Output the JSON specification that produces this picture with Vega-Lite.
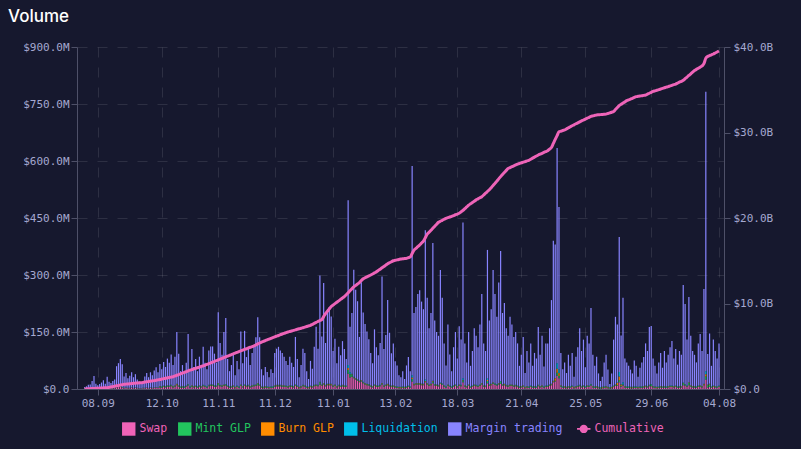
{
"$schema": "https://vega.github.io/schema/vega-lite/v6.json",
"width": 647, "height": 342,
"autosize": {"type": "none"},
"padding": {"left": 77, "top": 47, "right": 77, "bottom": 60},
"background": "#16182e",
"title": {"text": "Volume", "anchor": "start", "frame": "group", "dx": -69, "offset": 2, "baseline": "alphabetic", "font": "Inter", "fontSize": 17, "fontWeight": 500, "color": "#ffffff"},
"config": {
  "view": {"stroke": null},
  "axis": {"domainColor": "#4e5068", "tickColor": "#4e5068", "labelColor": "#a5a8d0", "labelFont": "DejaVu Sans Mono", "labelFontSize": 11, "tickSize": 6, "gridColor": "#ffffff", "gridOpacity": 0.1, "gridDash": [10, 10], "titleColor": "#a5a8d0"}
},
"datasets": {
"keys": [{"k":"s","name":"Swap","o":1},{"k":"g","name":"Mint GLP","o":2},{"k":"b","name":"Burn GLP","o":3},{"k":"l","name":"Liquidation","o":4},{"k":"m","name":"Margin trading","o":5}],
"days": [
{"d":"2021-09-01","m":3,"s":1,"g":1,"b":0,"l":0,"c":0},
{"d":"2021-09-02","m":5,"s":1,"g":1,"b":0,"l":0,"c":0.01},
{"d":"2021-09-03","m":8,"s":2,"g":1,"b":0,"l":0,"c":0.03},
{"d":"2021-09-04","m":10,"s":1,"g":1,"b":0,"l":0,"c":0.04},
{"d":"2021-09-05","m":18,"s":2,"g":1,"b":0,"l":0,"c":0.05},
{"d":"2021-09-06","m":30,"s":3,"g":1,"b":0,"l":0,"c":0.06},
{"d":"2021-09-07","m":12,"s":1,"g":1,"b":0,"l":0,"c":0.08},
{"d":"2021-09-08","m":8,"s":1,"g":1,"b":0,"l":0,"c":0.09},
{"d":"2021-09-09","m":10,"s":2,"g":1,"b":0,"l":0,"c":0.10},
{"d":"2021-09-10","m":14,"s":2,"g":1,"b":0,"l":0,"c":0.11},
{"d":"2021-09-11","m":20,"s":2,"g":1,"b":0,"l":0,"c":0.13},
{"d":"2021-09-12","m":12,"s":1,"g":1,"b":0,"l":0,"c":0.14},
{"d":"2021-09-13","m":28,"s":3,"g":1,"b":0,"l":0,"c":0.15},
{"d":"2021-09-14","m":16,"s":2,"g":1,"b":0,"l":0,"c":0.19},
{"d":"2021-09-15","m":14,"s":1,"g":1,"b":0,"l":0,"c":0.24},
{"d":"2021-09-16","m":18,"s":2,"g":1,"b":0,"l":0,"c":0.28},
{"d":"2021-09-17","m":22,"s":2,"g":1,"b":0,"l":0,"c":0.33},
{"d":"2021-09-18","m":55,"s":4,"g":1,"b":0,"l":0,"c":0.37},
{"d":"2021-09-19","m":62,"s":5,"g":1,"b":0,"l":0,"c":0.42},
{"d":"2021-09-20","m":70,"s":6,"g":3,"b":0,"l":0,"c":0.46},
{"d":"2021-09-21","m":60,"s":4,"g":1,"b":0,"l":0,"c":0.51},
{"d":"2021-09-22","m":30,"s":2,"g":1,"b":0,"l":0,"c":0.55},
{"d":"2021-09-23","m":38,"s":3,"g":1,"b":0,"l":0,"c":0.57},
{"d":"2021-09-24","m":25,"s":2,"g":1,"b":0,"l":0,"c":0.59},
{"d":"2021-09-25","m":32,"s":2,"g":1,"b":0,"l":0,"c":0.61},
{"d":"2021-09-26","m":40,"s":3,"g":1,"b":0,"l":0,"c":0.63},
{"d":"2021-09-27","m":28,"s":2,"g":1,"b":0,"l":0,"c":0.66},
{"d":"2021-09-28","m":35,"s":3,"g":1,"b":0,"l":0,"c":0.68},
{"d":"2021-09-29","m":22,"s":2,"g":1,"b":0,"l":0,"c":0.70},
{"d":"2021-09-30","m":18,"s":1,"g":1,"b":0,"l":0,"c":0.72},
{"d":"2021-10-01","m":12,"s":1,"g":1,"b":0,"l":0,"c":0.74},
{"d":"2021-10-02","m":15,"s":2,"g":1,"b":0,"l":0,"c":0.77},
{"d":"2021-10-03","m":30,"s":2,"g":1,"b":0,"l":0,"c":0.81},
{"d":"2021-10-04","m":38,"s":3,"g":1,"b":0,"l":0,"c":0.84},
{"d":"2021-10-05","m":28,"s":2,"g":1,"b":0,"l":0,"c":0.88},
{"d":"2021-10-06","m":40,"s":3,"g":1,"b":0,"l":0,"c":0.91},
{"d":"2021-10-07","m":33,"s":2,"g":1,"b":0,"l":0,"c":0.95},
{"d":"2021-10-08","m":45,"s":3,"g":1,"b":0,"l":0,"c":0.98},
{"d":"2021-10-09","m":52,"s":4,"g":1,"b":0,"l":0,"c":1.02},
{"d":"2021-10-10","m":40,"s":3,"g":1,"b":0,"l":0,"c":1.07},
{"d":"2021-10-11","m":58,"s":4,"g":2,"b":1,"l":1,"c":1.11},
{"d":"2021-10-12","m":45,"s":3,"g":2,"b":1,"l":1,"c":1.16},
{"d":"2021-10-13","m":62,"s":5,"g":2,"b":1,"l":1,"c":1.21},
{"d":"2021-10-14","m":50,"s":4,"g":2,"b":1,"l":1,"c":1.25},
{"d":"2021-10-15","m":70,"s":6,"g":2,"b":1,"l":1,"c":1.30},
{"d":"2021-10-16","m":60,"s":5,"g":2,"b":1,"l":1,"c":1.35},
{"d":"2021-10-17","m":80,"s":7,"g":2,"b":1,"l":1,"c":1.39},
{"d":"2021-10-18","m":55,"s":4,"g":2,"b":1,"l":1,"c":1.44},
{"d":"2021-10-19","m":75,"s":6,"g":2,"b":1,"l":1,"c":1.52},
{"d":"2021-10-20","m":136,"s":10,"g":2,"b":1,"l":1,"c":1.61},
{"d":"2021-10-21","m":83,"s":6,"g":2,"b":1,"l":1,"c":1.69},
{"d":"2021-10-22","m":40,"s":3,"g":2,"b":1,"l":1,"c":1.78},
{"d":"2021-10-23","m":55,"s":4,"g":2,"b":1,"l":1,"c":1.86},
{"d":"2021-10-24","m":35,"s":3,"g":2,"b":1,"l":1,"c":1.95},
{"d":"2021-10-25","m":60,"s":5,"g":2,"b":1,"l":1,"c":2.03},
{"d":"2021-10-26","m":132,"s":9,"g":2,"b":1,"l":1,"c":2.12},
{"d":"2021-10-27","m":45,"s":3,"g":2,"b":1,"l":1,"c":2.20},
{"d":"2021-10-28","m":95,"s":6,"g":2,"b":1,"l":1,"c":2.27},
{"d":"2021-10-29","m":50,"s":4,"g":2,"b":1,"l":1,"c":2.35},
{"d":"2021-10-30","m":70,"s":5,"g":2,"b":1,"l":1,"c":2.42},
{"d":"2021-10-31","m":40,"s":3,"g":2,"b":1,"l":1,"c":2.49},
{"d":"2021-11-01","m":75,"s":6,"g":2,"b":1,"l":1,"c":2.56},
{"d":"2021-11-02","m":55,"s":4,"g":2,"b":1,"l":1,"c":2.64},
{"d":"2021-11-03","m":100,"s":7,"g":2,"b":1,"l":1,"c":2.71},
{"d":"2021-11-04","m":60,"s":5,"g":2,"b":1,"l":1,"c":2.78},
{"d":"2021-11-05","m":45,"s":3,"g":2,"b":1,"l":1,"c":2.87},
{"d":"2021-11-06","m":90,"s":7,"g":2,"b":1,"l":1,"c":2.96},
{"d":"2021-11-07","m":100,"s":8,"g":2,"b":1,"l":1,"c":3.05},
{"d":"2021-11-08","m":100,"s":8,"g":2,"b":1,"l":1,"c":3.14},
{"d":"2021-11-09","m":83,"s":6,"g":2,"b":1,"l":1,"c":3.22},
{"d":"2021-11-10","m":60,"s":5,"g":2,"b":1,"l":1,"c":3.31},
{"d":"2021-11-11","m":186,"s":10,"g":4,"b":1,"l":1,"c":3.40},
{"d":"2021-11-12","m":110,"s":7,"g":2,"b":1,"l":1,"c":3.49},
{"d":"2021-11-13","m":80,"s":6,"g":2,"b":1,"l":1,"c":3.58},
{"d":"2021-11-14","m":138,"s":8,"g":2,"b":1,"l":1,"c":3.67},
{"d":"2021-11-15","m":174,"s":9,"g":2,"b":1,"l":1,"c":3.76},
{"d":"2021-11-16","m":70,"s":5,"g":2,"b":1,"l":1,"c":3.85},
{"d":"2021-11-17","m":40,"s":3,"g":2,"b":1,"l":1,"c":3.94},
{"d":"2021-11-18","m":55,"s":4,"g":2,"b":1,"l":1,"c":4.02},
{"d":"2021-11-19","m":80,"s":6,"g":2,"b":1,"l":1,"c":4.11},
{"d":"2021-11-20","m":30,"s":2,"g":2,"b":1,"l":1,"c":4.20},
{"d":"2021-11-21","m":65,"s":5,"g":2,"b":1,"l":1,"c":4.29},
{"d":"2021-11-22","m":45,"s":3,"g":2,"b":1,"l":1,"c":4.38},
{"d":"2021-11-23","m":139,"s":8,"g":2,"b":1,"l":1,"c":4.46},
{"d":"2021-11-24","m":60,"s":4,"g":2,"b":1,"l":1,"c":4.55},
{"d":"2021-11-25","m":141,"s":8,"g":2,"b":1,"l":1,"c":4.63},
{"d":"2021-11-26","m":75,"s":5,"g":2,"b":1,"l":1,"c":4.71},
{"d":"2021-11-27","m":95,"s":7,"g":2,"b":1,"l":1,"c":4.80},
{"d":"2021-11-28","m":55,"s":4,"g":2,"b":1,"l":1,"c":4.88},
{"d":"2021-11-29","m":85,"s":6,"g":2,"b":1,"l":1,"c":4.96},
{"d":"2021-11-30","m":100,"s":7,"g":2,"b":1,"l":1,"c":5.05},
{"d":"2021-12-01","m":124,"s":8,"g":2,"b":1,"l":1,"c":5.15},
{"d":"2021-12-02","m":173,"s":10,"g":4,"b":1,"l":1,"c":5.27},
{"d":"2021-12-03","m":124,"s":8,"g":2,"b":1,"l":1,"c":5.38},
{"d":"2021-12-04","m":45,"s":3,"g":2,"b":1,"l":1,"c":5.48},
{"d":"2021-12-05","m":30,"s":2,"g":2,"b":1,"l":1,"c":5.57},
{"d":"2021-12-06","m":50,"s":4,"g":2,"b":1,"l":1,"c":5.66},
{"d":"2021-12-07","m":38,"s":3,"g":2,"b":1,"l":1,"c":5.75},
{"d":"2021-12-08","m":25,"s":2,"g":2,"b":1,"l":1,"c":5.84},
{"d":"2021-12-09","m":45,"s":3,"g":2,"b":1,"l":1,"c":5.93},
{"d":"2021-12-10","m":35,"s":3,"g":2,"b":1,"l":1,"c":6.02},
{"d":"2021-12-11","m":85,"s":6,"g":2,"b":1,"l":1,"c":6.10},
{"d":"2021-12-12","m":95,"s":7,"g":2,"b":1,"l":1,"c":6.18},
{"d":"2021-12-13","m":100,"s":7,"g":2,"b":1,"l":1,"c":6.26},
{"d":"2021-12-14","m":90,"s":7,"g":2,"b":1,"l":1,"c":6.35},
{"d":"2021-12-15","m":85,"s":6,"g":2,"b":1,"l":1,"c":6.43},
{"d":"2021-12-16","m":75,"s":6,"g":2,"b":1,"l":1,"c":6.51},
{"d":"2021-12-17","m":65,"s":5,"g":2,"b":1,"l":1,"c":6.59},
{"d":"2021-12-18","m":55,"s":4,"g":2,"b":1,"l":1,"c":6.67},
{"d":"2021-12-19","m":75,"s":6,"g":2,"b":1,"l":1,"c":6.73},
{"d":"2021-12-20","m":60,"s":5,"g":2,"b":1,"l":1,"c":6.79},
{"d":"2021-12-21","m":50,"s":4,"g":2,"b":1,"l":1,"c":6.85},
{"d":"2021-12-22","m":125,"s":8,"g":2,"b":1,"l":1,"c":6.92},
{"d":"2021-12-23","m":70,"s":5,"g":2,"b":1,"l":1,"c":6.98},
{"d":"2021-12-24","m":25,"s":2,"g":2,"b":1,"l":1,"c":7.04},
{"d":"2021-12-25","m":55,"s":4,"g":2,"b":1,"l":1,"c":7.10},
{"d":"2021-12-26","m":95,"s":7,"g":2,"b":1,"l":1,"c":7.17},
{"d":"2021-12-27","m":85,"s":6,"g":2,"b":1,"l":1,"c":7.24},
{"d":"2021-12-28","m":40,"s":3,"g":2,"b":1,"l":1,"c":7.31},
{"d":"2021-12-29","m":20,"s":2,"g":2,"b":1,"l":1,"c":7.38},
{"d":"2021-12-30","m":65,"s":5,"g":2,"b":1,"l":1,"c":7.45},
{"d":"2021-12-31","m":45,"s":4,"g":2,"b":1,"l":1,"c":7.56},
{"d":"2022-01-01","m":100,"s":7,"g":2,"b":1,"l":1,"c":7.67},
{"d":"2022-01-02","m":152,"s":8,"g":2,"b":1,"l":1,"c":7.79},
{"d":"2022-01-03","m":95,"s":7,"g":2,"b":1,"l":1,"c":7.90},
{"d":"2022-01-04","m":280,"s":12,"g":5,"b":1,"l":1,"c":8.01},
{"d":"2022-01-05","m":126,"s":8,"g":2,"b":1,"l":1,"c":8.12},
{"d":"2022-01-06","m":263,"s":12,"g":2,"b":1,"l":1,"c":8.47},
{"d":"2022-01-07","m":110,"s":7,"g":2,"b":1,"l":1,"c":8.82},
{"d":"2022-01-08","m":186,"s":10,"g":2,"b":1,"l":1,"c":9.10},
{"d":"2022-01-09","m":202,"s":10,"g":2,"b":1,"l":1,"c":9.37},
{"d":"2022-01-10","m":177,"s":10,"g":2,"b":1,"l":1,"c":9.65},
{"d":"2022-01-11","m":90,"s":6,"g":2,"b":1,"l":1,"c":9.82},
{"d":"2022-01-12","m":120,"s":8,"g":2,"b":1,"l":1,"c":9.98},
{"d":"2022-01-13","m":60,"s":4,"g":2,"b":1,"l":1,"c":10.15},
{"d":"2022-01-14","m":100,"s":7,"g":2,"b":1,"l":1,"c":10.31},
{"d":"2022-01-15","m":80,"s":5,"g":2,"b":1,"l":1,"c":10.48},
{"d":"2022-01-16","m":115,"s":7,"g":2,"b":1,"l":1,"c":10.64},
{"d":"2022-01-17","m":95,"s":6,"g":2,"b":1,"l":1,"c":10.80},
{"d":"2022-01-18","m":70,"s":5,"g":2,"b":1,"l":1,"c":11.02},
{"d":"2022-01-19","m":434,"s":40,"g":10,"b":5,"l":8,"c":11.25},
{"d":"2022-01-20","m":120,"s":30,"g":8,"b":1,"l":5,"c":11.48},
{"d":"2022-01-21","m":160,"s":32,"g":6,"b":1,"l":1,"c":11.72},
{"d":"2022-01-22","m":282,"s":28,"g":2,"b":1,"l":1,"c":11.95},
{"d":"2022-01-23","m":232,"s":25,"g":2,"b":1,"l":1,"c":12.12},
{"d":"2022-01-24","m":205,"s":22,"g":2,"b":1,"l":1,"c":12.28},
{"d":"2022-01-25","m":115,"s":18,"g":2,"b":1,"l":1,"c":12.45},
{"d":"2022-01-26","m":257,"s":20,"g":2,"b":1,"l":1,"c":12.68},
{"d":"2022-01-27","m":182,"s":15,"g":2,"b":1,"l":1,"c":12.90},
{"d":"2022-01-28","m":155,"s":12,"g":2,"b":1,"l":1,"c":13.01},
{"d":"2022-01-29","m":137,"s":10,"g":2,"b":1,"l":1,"c":13.12},
{"d":"2022-01-30","m":118,"s":9,"g":2,"b":1,"l":1,"c":13.22},
{"d":"2022-01-31","m":85,"s":6,"g":2,"b":1,"l":1,"c":13.33},
{"d":"2022-02-01","m":60,"s":4,"g":2,"b":1,"l":1,"c":13.45},
{"d":"2022-02-02","m":145,"s":8,"g":2,"b":1,"l":1,"c":13.58},
{"d":"2022-02-03","m":100,"s":6,"g":2,"b":1,"l":1,"c":13.70},
{"d":"2022-02-04","m":80,"s":5,"g":2,"b":1,"l":1,"c":13.86},
{"d":"2022-02-05","m":110,"s":7,"g":2,"b":1,"l":1,"c":14.01},
{"d":"2022-02-06","m":280,"s":12,"g":2,"b":1,"l":1,"c":14.17},
{"d":"2022-02-07","m":95,"s":6,"g":2,"b":1,"l":1,"c":14.32},
{"d":"2022-02-08","m":130,"s":8,"g":2,"b":1,"l":1,"c":14.49},
{"d":"2022-02-09","m":220,"s":10,"g":2,"b":1,"l":1,"c":14.65},
{"d":"2022-02-10","m":137,"s":7,"g":2,"b":1,"l":1,"c":14.77},
{"d":"2022-02-11","m":85,"s":5,"g":2,"b":1,"l":1,"c":14.88},
{"d":"2022-02-12","m":110,"s":6,"g":2,"b":1,"l":1,"c":15.00},
{"d":"2022-02-13","m":65,"s":4,"g":2,"b":1,"l":1,"c":15.05},
{"d":"2022-02-14","m":55,"s":3,"g":2,"b":1,"l":1,"c":15.10},
{"d":"2022-02-15","m":30,"s":2,"g":2,"b":1,"l":1,"c":15.15},
{"d":"2022-02-16","m":25,"s":2,"g":2,"b":1,"l":1,"c":15.20},
{"d":"2022-02-17","m":40,"s":3,"g":2,"b":1,"l":1,"c":15.23},
{"d":"2022-02-18","m":20,"s":2,"g":2,"b":1,"l":1,"c":15.25},
{"d":"2022-02-19","m":55,"s":3,"g":2,"b":1,"l":1,"c":15.28},
{"d":"2022-02-20","m":75,"s":5,"g":2,"b":1,"l":1,"c":15.36},
{"d":"2022-02-21","m":40,"s":3,"g":2,"b":1,"l":1,"c":15.45},
{"d":"2022-02-22","m":551,"s":20,"g":6,"b":4,"l":6,"c":15.85},
{"d":"2022-02-23","m":186,"s":10,"g":2,"b":1,"l":1,"c":16.25},
{"d":"2022-02-24","m":200,"s":12,"g":2,"b":1,"l":1,"c":16.45},
{"d":"2022-02-25","m":234,"s":12,"g":2,"b":1,"l":1,"c":16.64},
{"d":"2022-02-26","m":244,"s":12,"g":2,"b":1,"l":1,"c":16.84},
{"d":"2022-02-27","m":216,"s":10,"g":2,"b":1,"l":1,"c":17.07},
{"d":"2022-02-28","m":196,"s":10,"g":2,"b":1,"l":1,"c":17.30},
{"d":"2022-03-01","m":393,"s":18,"g":2,"b":1,"l":4,"c":17.70},
{"d":"2022-03-02","m":224,"s":12,"g":2,"b":1,"l":1,"c":18.10},
{"d":"2022-03-03","m":148,"s":8,"g":2,"b":1,"l":1,"c":18.33},
{"d":"2022-03-04","m":186,"s":10,"g":2,"b":1,"l":1,"c":18.56},
{"d":"2022-03-05","m":362,"s":15,"g":5,"b":1,"l":1,"c":18.79},
{"d":"2022-03-06","m":167,"s":9,"g":2,"b":1,"l":1,"c":19.03},
{"d":"2022-03-07","m":138,"s":8,"g":2,"b":1,"l":1,"c":19.26},
{"d":"2022-03-08","m":129,"s":7,"g":2,"b":1,"l":1,"c":19.50},
{"d":"2022-03-09","m":296,"s":13,"g":2,"b":1,"l":1,"c":19.62},
{"d":"2022-03-10","m":225,"s":11,"g":2,"b":1,"l":1,"c":19.73},
{"d":"2022-03-11","m":110,"s":6,"g":2,"b":1,"l":1,"c":19.85},
{"d":"2022-03-12","m":55,"s":3,"g":2,"b":1,"l":1,"c":19.96},
{"d":"2022-03-13","m":158,"s":8,"g":2,"b":1,"l":1,"c":20.04},
{"d":"2022-03-14","m":82,"s":5,"g":2,"b":1,"l":1,"c":20.12},
{"d":"2022-03-15","m":40,"s":3,"g":2,"b":1,"l":1,"c":20.20},
{"d":"2022-03-16","m":100,"s":6,"g":2,"b":1,"l":1,"c":20.29},
{"d":"2022-03-17","m":138,"s":8,"g":2,"b":1,"l":1,"c":20.38},
{"d":"2022-03-18","m":72,"s":4,"g":2,"b":1,"l":1,"c":20.46},
{"d":"2022-03-19","m":153,"s":8,"g":2,"b":1,"l":1,"c":20.55},
{"d":"2022-03-20","m":119,"s":7,"g":2,"b":1,"l":1,"c":20.72},
{"d":"2022-03-21","m":410,"s":18,"g":5,"b":1,"l":4,"c":20.88},
{"d":"2022-03-22","m":110,"s":6,"g":2,"b":1,"l":1,"c":21.09},
{"d":"2022-03-23","m":62,"s":4,"g":2,"b":1,"l":1,"c":21.29},
{"d":"2022-03-24","m":138,"s":8,"g":2,"b":1,"l":1,"c":21.50},
{"d":"2022-03-25","m":54,"s":3,"g":2,"b":1,"l":1,"c":21.66},
{"d":"2022-03-26","m":91,"s":5,"g":2,"b":1,"l":1,"c":21.81},
{"d":"2022-03-27","m":148,"s":8,"g":2,"b":1,"l":1,"c":21.97},
{"d":"2022-03-28","m":129,"s":7,"g":2,"b":1,"l":1,"c":22.12},
{"d":"2022-03-29","m":101,"s":5,"g":2,"b":1,"l":1,"c":22.24},
{"d":"2022-03-30","m":158,"s":8,"g":2,"b":1,"l":1,"c":22.37},
{"d":"2022-03-31","m":234,"s":12,"g":2,"b":1,"l":1,"c":22.49},
{"d":"2022-04-01","m":110,"s":6,"g":2,"b":1,"l":1,"c":22.69},
{"d":"2022-04-02","m":91,"s":5,"g":2,"b":1,"l":1,"c":22.90},
{"d":"2022-04-03","m":338,"s":15,"g":6,"b":3,"l":4,"c":23.10},
{"d":"2022-04-04","m":168,"s":8,"g":2,"b":1,"l":1,"c":23.30},
{"d":"2022-04-05","m":196,"s":10,"g":2,"b":1,"l":1,"c":23.55},
{"d":"2022-04-06","m":295,"s":14,"g":2,"b":1,"l":1,"c":23.80},
{"d":"2022-04-07","m":235,"s":11,"g":2,"b":1,"l":1,"c":24.05},
{"d":"2022-04-08","m":177,"s":9,"g":2,"b":1,"l":1,"c":24.31},
{"d":"2022-04-09","m":264,"s":12,"g":2,"b":1,"l":1,"c":24.58},
{"d":"2022-04-10","m":342,"s":14,"g":5,"b":1,"l":1,"c":24.84},
{"d":"2022-04-11","m":187,"s":9,"g":2,"b":1,"l":1,"c":25.10},
{"d":"2022-04-12","m":212,"s":10,"g":2,"b":1,"l":1,"c":25.33},
{"d":"2022-04-13","m":149,"s":7,"g":2,"b":1,"l":1,"c":25.57},
{"d":"2022-04-14","m":130,"s":6,"g":2,"b":1,"l":1,"c":25.80},
{"d":"2022-04-15","m":178,"s":8,"g":2,"b":1,"l":1,"c":25.90},
{"d":"2022-04-16","m":158,"s":8,"g":2,"b":1,"l":1,"c":26.00},
{"d":"2022-04-17","m":127,"s":6,"g":2,"b":1,"l":1,"c":26.10},
{"d":"2022-04-18","m":139,"s":7,"g":2,"b":1,"l":1,"c":26.20},
{"d":"2022-04-19","m":111,"s":5,"g":2,"b":1,"l":1,"c":26.30},
{"d":"2022-04-20","m":54,"s":3,"g":2,"b":1,"l":1,"c":26.38},
{"d":"2022-04-21","m":82,"s":4,"g":2,"b":1,"l":1,"c":26.45},
{"d":"2022-04-22","m":127,"s":6,"g":2,"b":1,"l":1,"c":26.53},
{"d":"2022-04-23","m":36,"s":2,"g":2,"b":1,"l":1,"c":26.60},
{"d":"2022-04-24","m":92,"s":4,"g":2,"b":1,"l":1,"c":26.68},
{"d":"2022-04-25","m":63,"s":3,"g":2,"b":1,"l":1,"c":26.75},
{"d":"2022-04-26","m":111,"s":5,"g":2,"b":1,"l":1,"c":26.87},
{"d":"2022-04-27","m":54,"s":3,"g":2,"b":1,"l":1,"c":27.00},
{"d":"2022-04-28","m":87,"s":4,"g":2,"b":1,"l":1,"c":27.12},
{"d":"2022-04-29","m":73,"s":3,"g":2,"b":1,"l":1,"c":27.25},
{"d":"2022-04-30","m":152,"s":7,"g":2,"b":1,"l":1,"c":27.37},
{"d":"2022-05-01","m":82,"s":4,"g":2,"b":1,"l":1,"c":27.47},
{"d":"2022-05-02","m":130,"s":6,"g":2,"b":1,"l":1,"c":27.57},
{"d":"2022-05-03","m":52,"s":3,"g":2,"b":1,"l":1,"c":27.67},
{"d":"2022-05-04","m":111,"s":5,"g":2,"b":1,"l":1,"c":27.77},
{"d":"2022-05-05","m":111,"s":5,"g":2,"b":1,"l":1,"c":27.87},
{"d":"2022-05-06","m":148,"s":8,"g":2,"b":1,"l":1,"c":28.06},
{"d":"2022-05-07","m":220,"s":10,"g":2,"b":1,"l":1,"c":28.25},
{"d":"2022-05-08","m":368,"s":18,"g":2,"b":1,"l":1,"c":28.72},
{"d":"2022-05-09","m":351,"s":20,"g":2,"b":6,"l":1,"c":29.20},
{"d":"2022-05-10","m":566,"s":35,"g":8,"b":10,"l":15,"c":29.64},
{"d":"2022-05-11","m":427,"s":28,"g":6,"b":8,"l":10,"c":30.08},
{"d":"2022-05-12","m":85,"s":6,"g":2,"b":1,"l":1,"c":30.15},
{"d":"2022-05-13","m":45,"s":3,"g":2,"b":1,"l":1,"c":30.23},
{"d":"2022-05-14","m":62,"s":4,"g":2,"b":1,"l":1,"c":30.30},
{"d":"2022-05-15","m":36,"s":2,"g":2,"b":1,"l":1,"c":30.42},
{"d":"2022-05-16","m":82,"s":4,"g":2,"b":1,"l":1,"c":30.55},
{"d":"2022-05-17","m":54,"s":3,"g":2,"b":1,"l":1,"c":30.67},
{"d":"2022-05-18","m":86,"s":5,"g":2,"b":1,"l":1,"c":30.79},
{"d":"2022-05-19","m":26,"s":2,"g":2,"b":1,"l":1,"c":30.90},
{"d":"2022-05-20","m":77,"s":4,"g":2,"b":1,"l":1,"c":31.02},
{"d":"2022-05-21","m":101,"s":5,"g":2,"b":1,"l":1,"c":31.13},
{"d":"2022-05-22","m":149,"s":7,"g":2,"b":1,"l":1,"c":31.25},
{"d":"2022-05-23","m":92,"s":4,"g":2,"b":1,"l":1,"c":31.36},
{"d":"2022-05-24","m":120,"s":6,"g":2,"b":1,"l":1,"c":31.46},
{"d":"2022-05-25","m":50,"s":3,"g":2,"b":1,"l":1,"c":31.57},
{"d":"2022-05-26","m":130,"s":6,"g":2,"b":1,"l":1,"c":31.67},
{"d":"2022-05-27","m":111,"s":5,"g":2,"b":1,"l":1,"c":31.78},
{"d":"2022-05-28","m":200,"s":9,"g":2,"b":1,"l":1,"c":31.88},
{"d":"2022-05-29","m":82,"s":4,"g":2,"b":1,"l":1,"c":31.94},
{"d":"2022-05-30","m":54,"s":3,"g":2,"b":1,"l":1,"c":32.00},
{"d":"2022-05-31","m":77,"s":4,"g":2,"b":1,"l":1,"c":32.05},
{"d":"2022-06-01","m":35,"s":2,"g":2,"b":1,"l":1,"c":32.07},
{"d":"2022-06-02","m":16,"s":1,"g":2,"b":1,"l":1,"c":32.09},
{"d":"2022-06-03","m":26,"s":2,"g":2,"b":1,"l":1,"c":32.11},
{"d":"2022-06-04","m":63,"s":3,"g":2,"b":1,"l":1,"c":32.13},
{"d":"2022-06-05","m":82,"s":4,"g":2,"b":1,"l":1,"c":32.15},
{"d":"2022-06-06","m":45,"s":2,"g":2,"b":1,"l":1,"c":32.22},
{"d":"2022-06-07","m":8,"s":1,"g":2,"b":1,"l":1,"c":32.30},
{"d":"2022-06-08","m":35,"s":2,"g":2,"b":1,"l":1,"c":32.37},
{"d":"2022-06-09","m":121,"s":5,"g":2,"b":1,"l":1,"c":32.45},
{"d":"2022-06-10","m":178,"s":8,"g":2,"b":1,"l":1,"c":32.68},
{"d":"2022-06-11","m":153,"s":8,"g":2,"b":6,"l":1,"c":32.92},
{"d":"2022-06-12","m":355,"s":18,"g":5,"b":10,"l":12,"c":33.15},
{"d":"2022-06-13","m":128,"s":6,"g":2,"b":4,"l":1,"c":33.29},
{"d":"2022-06-14","m":222,"s":9,"g":2,"b":1,"l":6,"c":33.44},
{"d":"2022-06-15","m":72,"s":4,"g":2,"b":1,"l":1,"c":33.58},
{"d":"2022-06-16","m":63,"s":3,"g":2,"b":1,"l":1,"c":33.72},
{"d":"2022-06-17","m":54,"s":3,"g":2,"b":1,"l":1,"c":33.81},
{"d":"2022-06-18","m":45,"s":2,"g":2,"b":1,"l":1,"c":33.91},
{"d":"2022-06-19","m":35,"s":2,"g":2,"b":1,"l":1,"c":34.00},
{"d":"2022-06-20","m":68,"s":3,"g":2,"b":1,"l":1,"c":34.10},
{"d":"2022-06-21","m":54,"s":3,"g":2,"b":1,"l":1,"c":34.19},
{"d":"2022-06-22","m":26,"s":2,"g":2,"b":1,"l":1,"c":34.23},
{"d":"2022-06-23","m":49,"s":3,"g":2,"b":1,"l":1,"c":34.27},
{"d":"2022-06-24","m":63,"s":3,"g":2,"b":1,"l":1,"c":34.30},
{"d":"2022-06-25","m":76,"s":4,"g":2,"b":1,"l":1,"c":34.34},
{"d":"2022-06-26","m":111,"s":5,"g":2,"b":1,"l":1,"c":34.38},
{"d":"2022-06-27","m":92,"s":4,"g":2,"b":1,"l":1,"c":34.49},
{"d":"2022-06-28","m":152,"s":7,"g":2,"b":1,"l":1,"c":34.59},
{"d":"2022-06-29","m":153,"s":7,"g":4,"b":1,"l":1,"c":34.70},
{"d":"2022-06-30","m":72,"s":4,"g":2,"b":1,"l":1,"c":34.80},
{"d":"2022-07-01","m":54,"s":3,"g":2,"b":1,"l":1,"c":34.87},
{"d":"2022-07-02","m":35,"s":2,"g":2,"b":1,"l":1,"c":34.94},
{"d":"2022-07-03","m":63,"s":3,"g":2,"b":1,"l":1,"c":35.01},
{"d":"2022-07-04","m":87,"s":4,"g":2,"b":1,"l":1,"c":35.09},
{"d":"2022-07-05","m":49,"s":3,"g":2,"b":1,"l":1,"c":35.16},
{"d":"2022-07-06","m":92,"s":4,"g":2,"b":1,"l":1,"c":35.23},
{"d":"2022-07-07","m":63,"s":3,"g":2,"b":1,"l":1,"c":35.30},
{"d":"2022-07-08","m":82,"s":4,"g":2,"b":1,"l":1,"c":35.37},
{"d":"2022-07-09","m":101,"s":5,"g":2,"b":1,"l":1,"c":35.45},
{"d":"2022-07-10","m":117,"s":5,"g":2,"b":1,"l":1,"c":35.52},
{"d":"2022-07-11","m":72,"s":4,"g":2,"b":1,"l":1,"c":35.60},
{"d":"2022-07-12","m":96,"s":5,"g":2,"b":1,"l":1,"c":35.67},
{"d":"2022-07-13","m":57,"s":3,"g":2,"b":1,"l":1,"c":35.78},
{"d":"2022-07-14","m":92,"s":4,"g":2,"b":1,"l":1,"c":35.89},
{"d":"2022-07-15","m":82,"s":4,"g":2,"b":1,"l":1,"c":35.99},
{"d":"2022-07-16","m":257,"s":10,"g":5,"b":1,"l":1,"c":36.10},
{"d":"2022-07-17","m":211,"s":9,"g":2,"b":1,"l":1,"c":36.29},
{"d":"2022-07-18","m":121,"s":5,"g":2,"b":1,"l":1,"c":36.48},
{"d":"2022-07-19","m":224,"s":10,"g":6,"b":1,"l":1,"c":36.68},
{"d":"2022-07-20","m":130,"s":6,"g":2,"b":1,"l":1,"c":36.87},
{"d":"2022-07-21","m":92,"s":4,"g":2,"b":1,"l":1,"c":37.06},
{"d":"2022-07-22","m":82,"s":4,"g":2,"b":1,"l":1,"c":37.25},
{"d":"2022-07-23","m":63,"s":3,"g":2,"b":1,"l":1,"c":37.38},
{"d":"2022-07-24","m":111,"s":5,"g":2,"b":1,"l":1,"c":37.52},
{"d":"2022-07-25","m":135,"s":6,"g":2,"b":1,"l":1,"c":37.65},
{"d":"2022-07-26","m":92,"s":4,"g":2,"b":1,"l":1,"c":37.78},
{"d":"2022-07-27","m":249,"s":10,"g":2,"b":1,"l":1,"c":38.05},
{"d":"2022-07-28","m":735,"s":25,"g":8,"b":6,"l":8,"c":38.70},
{"d":"2022-07-29","m":80,"s":4,"g":6,"b":1,"l":1,"c":38.90},
{"d":"2022-07-30","m":132,"s":6,"g":6,"b":1,"l":1,"c":38.99},
{"d":"2022-07-31","m":54,"s":3,"g":2,"b":1,"l":1,"c":39.09},
{"d":"2022-08-01","m":121,"s":5,"g":2,"b":1,"l":1,"c":39.18},
{"d":"2022-08-02","m":92,"s":4,"g":2,"b":1,"l":1,"c":39.30},
{"d":"2022-08-03","m":73,"s":3,"g":2,"b":1,"l":1,"c":39.41},
{"d":"2022-08-04","m":111,"s":5,"g":2,"b":1,"l":1,"c":39.53}
]
},
"layer": [
{
  "data": {"name": "days"},
  "transform": [
    {"fold": ["s", "g", "b", "l", "m"], "as": ["k", "v"]},
    {"lookup": "k", "from": {"data": {"name": "keys"}, "key": "k", "fields": ["name", "o"]}}
  ],
  "mark": {"type": "bar", "size": 1.2, "clip": true},
  "encoding": {
    "x": {"field": "d", "type": "temporal", "title": null,
      "scale": {"type": "utc", "domain": [{"year": 2021, "month": 8, "date": 30, "hours": 15, "minutes": 10, "utc": true}, {"year": 2022, "month": 8, "date": 4, "utc": true}]},
      "axis": {"values": [{"year":2021,"month":9,"date":8,"utc":true},{"year":2021,"month":10,"date":12,"utc":true},{"year":2021,"month":11,"date":11,"utc":true},{"year":2021,"month":12,"date":11,"utc":true},{"year":2022,"month":1,"date":11,"utc":true},{"year":2022,"month":2,"date":13,"utc":true},{"year":2022,"month":3,"date":18,"utc":true},{"year":2022,"month":4,"date":21,"utc":true},{"year":2022,"month":5,"date":25,"utc":true},{"year":2022,"month":6,"date":29,"utc":true},{"year":2022,"month":8,"date":4,"utc":true}],
        "labelExpr": "utcFormat(datum.value, '%d.%m')", "labelFlush": false, "labelOverlap": false, "labelPadding": 2, "grid": true}},
    "y": {"field": "v", "type": "quantitative", "stack": "zero", "title": null,
      "scale": {"domain": [0, 900], "nice": false},
      "axis": {"values": [0, 150, 300, 450, 600, 750, 900], "labelExpr": "datum.value == 0 ? '$0.0' : '$' + format(datum.value, '.1f') + 'M'", "labelPadding": 2, "grid": true}},
    "color": {"field": "name", "type": "nominal",
      "scale": {"domain": ["Swap", "Mint GLP", "Burn GLP", "Liquidation", "Margin trading", "Cumulative"], "range": ["#f063b8", "#22c55e", "#ff8c00", "#00bfea", "#8884ff", "#ee64b8"]},
      "legend": {"orient": "none", "legendX": 46, "legendY": 376, "direction": "horizontal", "title": null,
        "symbolSize": 180, "symbolType": "square", "symbolStrokeWidth": 0,
        "labelFont": "DejaVu Sans Mono", "labelFontSize": 11.5, "labelOffset": 5, "columnPadding": 10,
        "encode": {
          "symbols": {"update": {
            "shape": {"signal": "datum.value === 'Cumulative' ? 'M-1,0H-0.48M0.48,0H1M0.48,0A0.48,0.48 0 1 1 -0.48,0A0.48,0.48 0 1 1 0.48,0' : 'square'"},
            "fill": {"signal": "datum.value === 'Cumulative' ? 'transparent' : scale('color', datum.value)"},
            "stroke": {"signal": "datum.value === 'Cumulative' ? '#ee64b8' : 'transparent'"},
            "strokeWidth": {"signal": "datum.value === 'Cumulative' ? 1.8 : 0"},
            "opacity": {"value": 1}
          }},
          "labels": {"update": {"fill": {"signal": "scale('color', datum.value)"}}}
        }}},
    "order": {"field": "o", "type": "quantitative", "sort": "ascending"}
  }
},
{
  "data": {"name": "days"},
  "mark": {"type": "line", "color": "#ee64b8", "strokeWidth": 3, "interpolate": "monotone", "clip": true},
  "encoding": {
    "x": {"field": "d", "type": "temporal", "title": null,
      "scale": {"type": "utc", "domain": [{"year": 2021, "month": 8, "date": 30, "hours": 15, "minutes": 10, "utc": true}, {"year": 2022, "month": 8, "date": 4, "utc": true}]},
      "axis": {"values": [{"year":2021,"month":9,"date":8,"utc":true},{"year":2021,"month":10,"date":12,"utc":true},{"year":2021,"month":11,"date":11,"utc":true},{"year":2021,"month":12,"date":11,"utc":true},{"year":2022,"month":1,"date":11,"utc":true},{"year":2022,"month":2,"date":13,"utc":true},{"year":2022,"month":3,"date":18,"utc":true},{"year":2022,"month":4,"date":21,"utc":true},{"year":2022,"month":5,"date":25,"utc":true},{"year":2022,"month":6,"date":29,"utc":true},{"year":2022,"month":8,"date":4,"utc":true}],
        "labelExpr": "utcFormat(datum.value, '%d.%m')", "labelFlush": false, "labelOverlap": false, "labelPadding": 2, "grid": true}},
    "y": {"field": "c", "type": "quantitative", "title": null,
      "scale": {"domain": [0, 40], "nice": false},
      "axis": {"orient": "right", "values": [0, 10, 20, 30, 40], "labelExpr": "datum.value == 0 ? '$0.0' : '$' + format(datum.value, '.1f') + 'B'", "labelPadding": 3, "grid": false}}
  }
}
],
"resolve": {"scale": {"y": "independent"}}
}
